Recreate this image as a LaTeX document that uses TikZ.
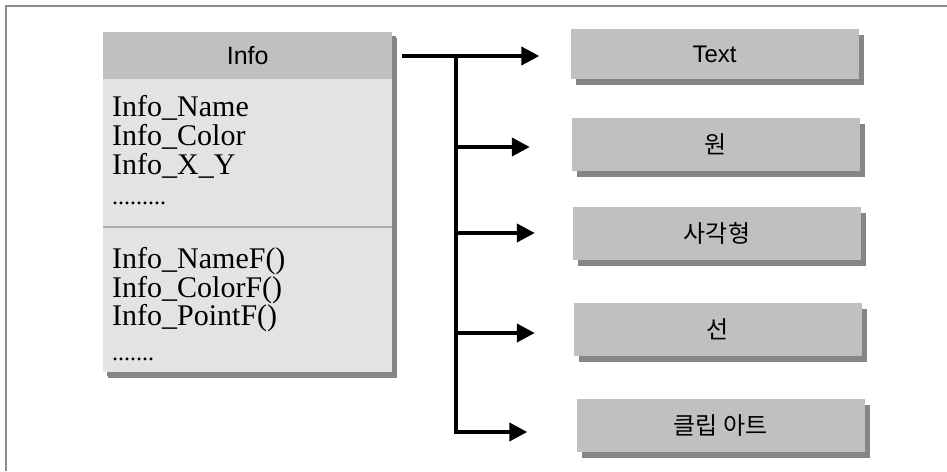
\documentclass[tikz,border=0pt]{standalone}
\usepackage{fontspec}
\setmainfont{Liberation Serif}
\setsansfont{Liberation Sans}
\newfontfamily\krfont{Noto Sans CJK KR}
\usetikzlibrary{arrows.meta,shadows}
\definecolor{hdrgray}{HTML}{C0C0C0}
\definecolor{bodygray}{HTML}{E3E3E3}
\definecolor{shadegray}{HTML}{858585}
\definecolor{framegray}{HTML}{8C8C8C}
\definecolor{rulegray}{HTML}{B0B0B0}
\tikzset{
  shaded box/.style={draw=none, rectangle, inner sep=0pt,
    general shadow={fill=shadegray, shadow xshift=5pt, shadow yshift=-6pt}},
  itembox/.style={shaded box, fill=hdrgray, minimum width=288pt,
    font=\fontsize{24}{28}\selectfont\sffamily},
  member/.style={anchor=base west, inner sep=0pt,
    font=\fontsize{30}{30}\selectfont},
  dots/.style={anchor=base west, inner sep=0pt,
    font=\fontsize{24}{24}\selectfont},
  arr/.style={line width=4pt, -{Triangle[length=18pt,width=18pt]}},
  trunk/.style={line width=4pt, line cap=rect}
}
\begin{document}
\begin{tikzpicture}[x=1pt,y=-1pt]
  \useasboundingbox (0,0) rectangle (947,471);
  % outer frame (only top and left edges fall inside the page)
  \draw[framegray, line width=2pt] (947,6) -- (6,6) -- (6,471);

  % class box
  \node[shaded box, fill=bodygray, anchor=north west,
        minimum width=289pt, minimum height=340pt, general shadow={fill=shadegray, shadow xshift=4pt, shadow yshift=-4pt}] (cls) at (103,32) {};
  \node[rectangle, inner sep=0pt, fill=hdrgray, anchor=north west,
        minimum width=289pt, minimum height=47pt,
        font=\fontsize{25}{28}\selectfont\sffamily] (hdr) at (103,32) {Info};
  \draw[rulegray, line width=1.2pt] (cls.west |- 0,227) -- (cls.east |- 0,227);

  % member list
  \node[member] (m1) at (112,116) {Info\_Name};
  \node[member] (m2) at (112,145) {Info\_Color};
  \node[member] (m3) at (112,174) {Info\_X\_Y};
  \node[dots]   (m4) at (112,204) {.........};
  \node[member] (f1) at (112,268) {Info\_NameF()};
  \node[member] (f2) at (112,297) {Info\_ColorF()};
  \node[member] (f3) at (112,325) {Info\_PointF()};
  \node[dots]   (f4) at (112,360) {.......};

  % target boxes
  \node[itembox, minimum height=50pt] (b1) at (714.5,54) {Text};
  \node[itembox, minimum height=53pt] (b2) at (716,144.5) {\krfont 원};
  \node[itembox, minimum height=53pt] (b3) at (717,233) {\krfont 사각형};
  \node[itembox, minimum height=53pt] (b4) at (718,329.5) {\krfont 선};
  \node[itembox, minimum height=53pt] (b5) at (720.5,425.5) {\krfont 클립 아트};

  % branching connectors
  \coordinate (jt) at (456,56);
  \coordinate (j2) at (456,147);
  \coordinate (j3) at (456,233);
  \coordinate (j4) at (456,333);
  \coordinate (j5) at (456,432);
  \draw[arr, shorten <=10pt, shorten >=31pt] (hdr.east |- jt) -- (jt -| b1.west);
  \draw[trunk] (jt) -- (j5);
  \draw[arr, shorten >=42pt] (j2) -- (j2 -| b2.west);
  \draw[arr, shorten >=38pt] (j3) -- (j3 -| b3.west);
  \draw[arr, shorten >=39pt] (j4) -- (j4 -| b4.west);
  \draw[arr, shorten >=49pt] (j5) -- (j5 -| b5.west);
\end{tikzpicture}
\end{document}
